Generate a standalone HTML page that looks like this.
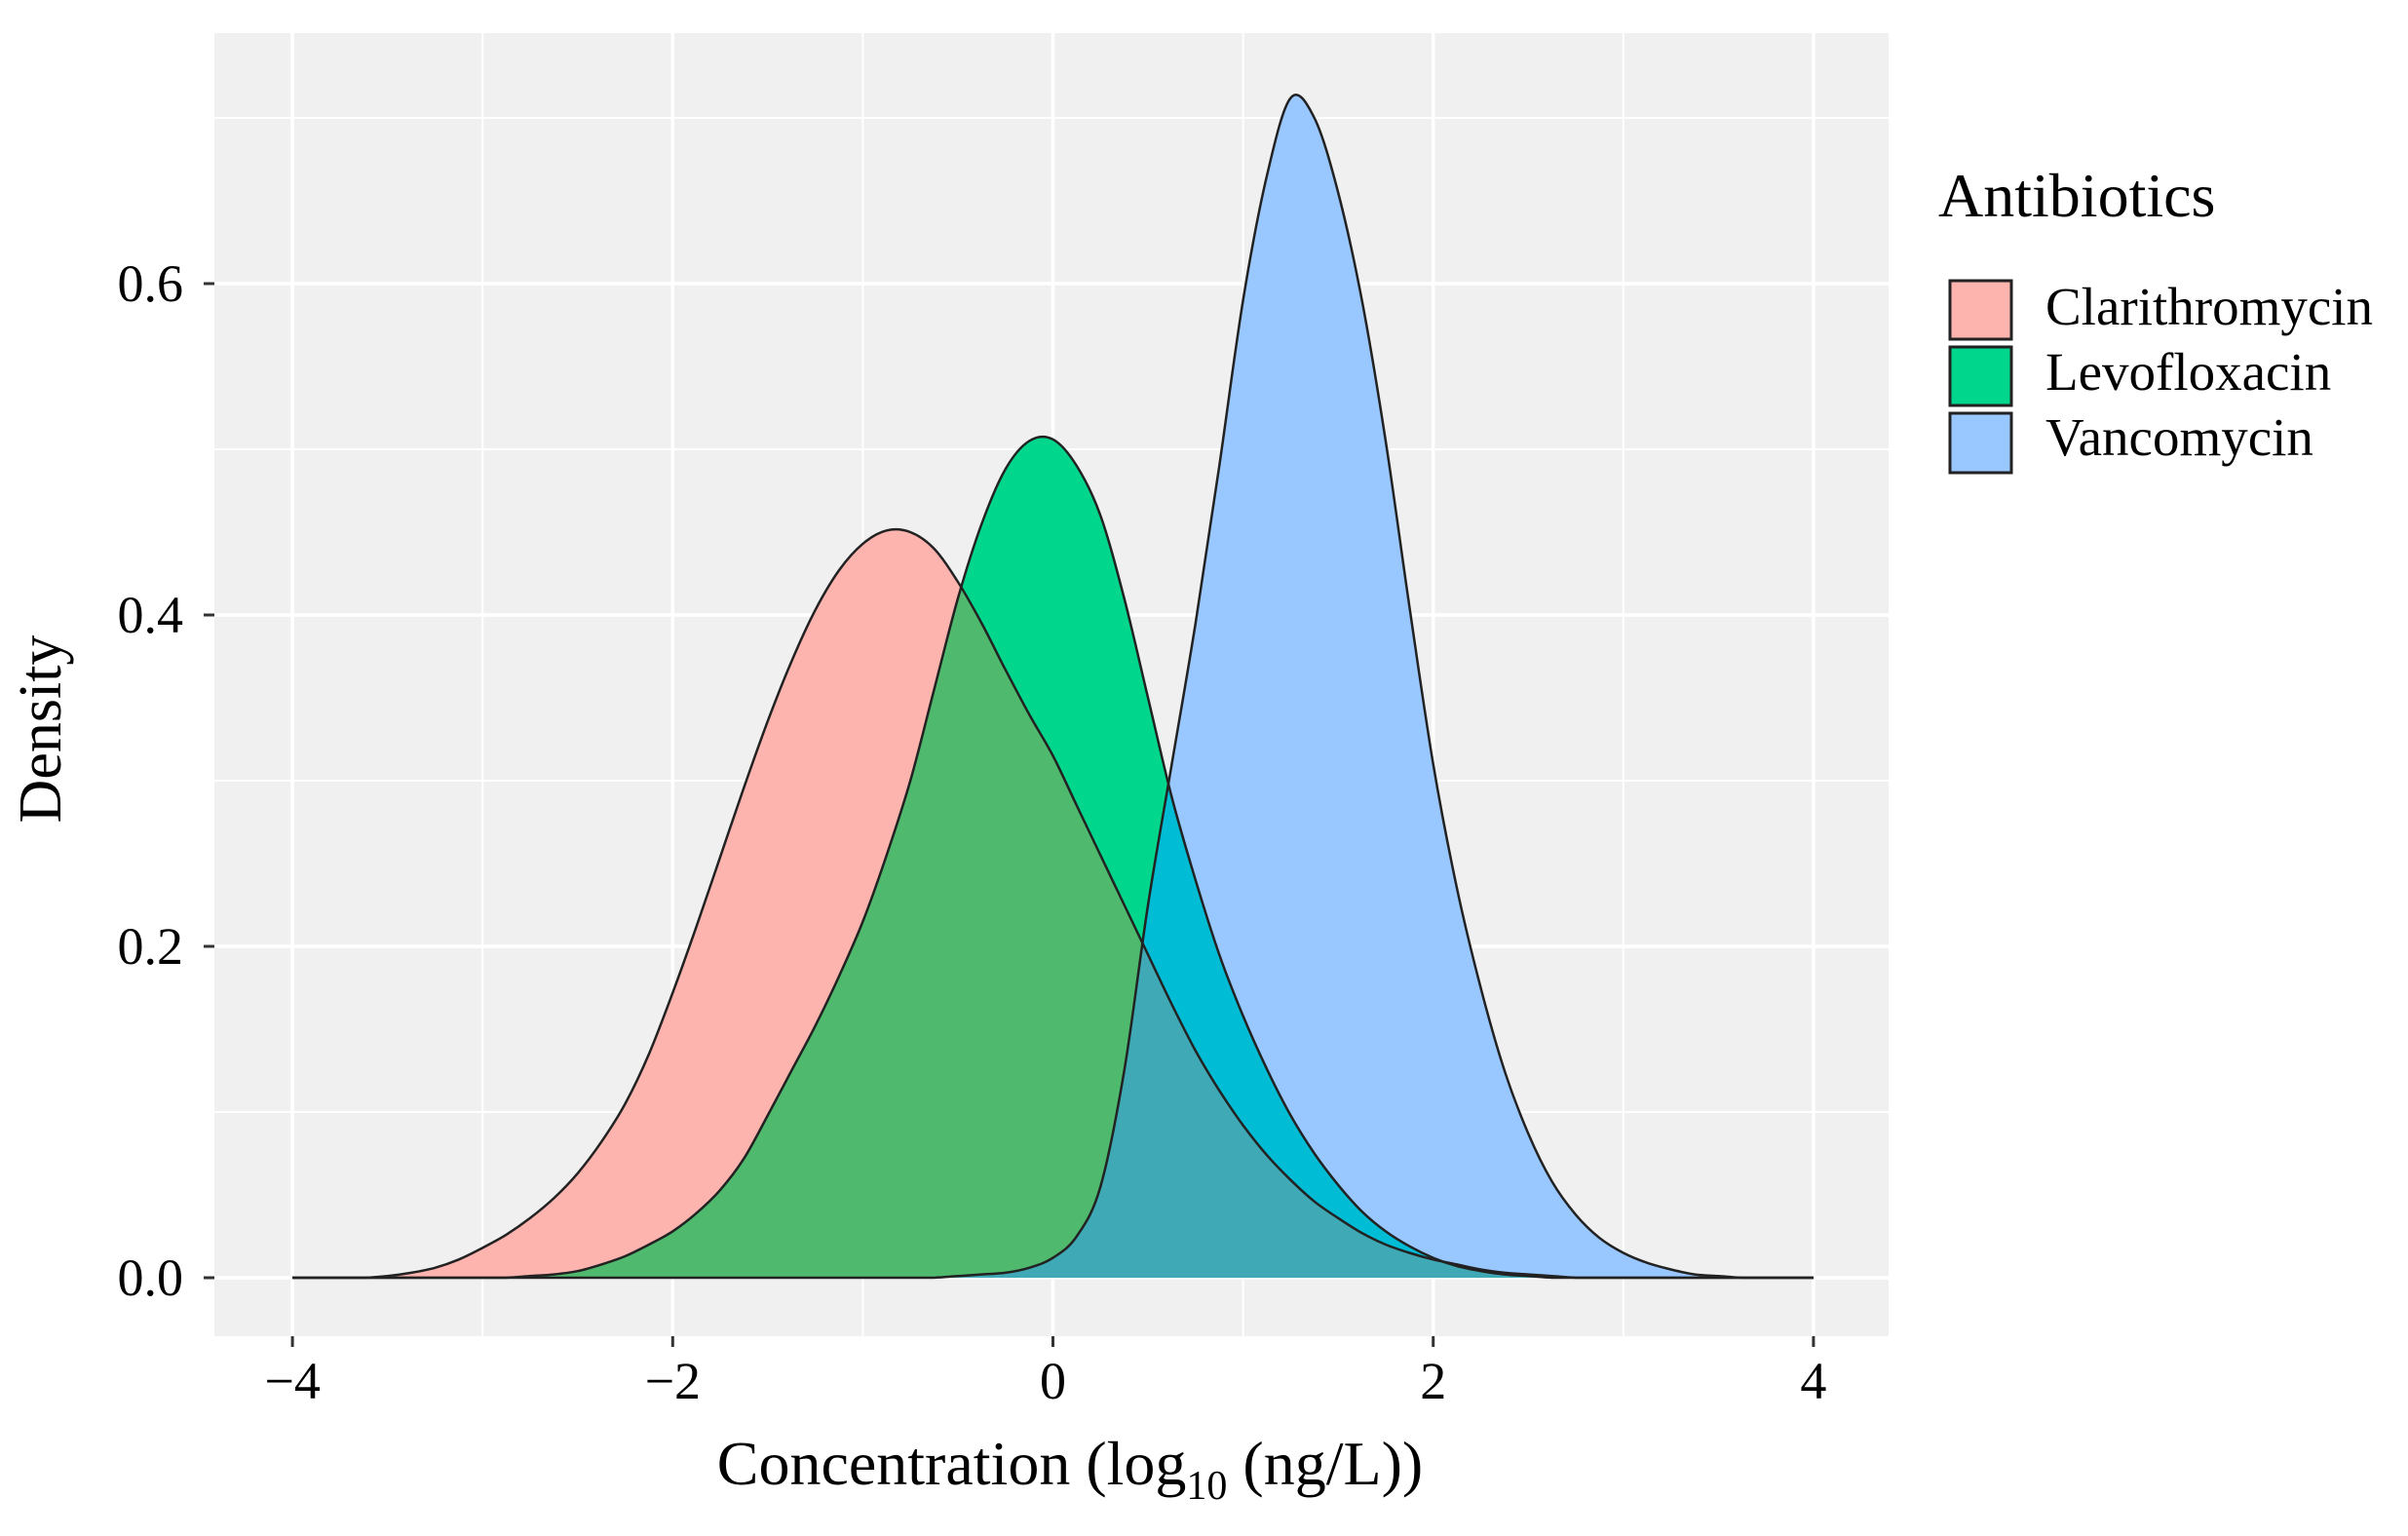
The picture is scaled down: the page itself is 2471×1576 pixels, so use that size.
<!DOCTYPE html>
<html><head><meta charset="utf-8"><style>
html,body{margin:0;padding:0;background:#fff;}
svg text{font-family:"Liberation Serif",serif;fill:#000;}
</style></head><body>
<svg id="chart" width="2471" height="1571" viewBox="0 0 2471 1571" xmlns="http://www.w3.org/2000/svg">
<rect x="220" y="34" width="1718" height="1337" fill="#F0F0F0"/>
<g id="grid"></g>
<defs id="defs"></defs>
<g id="areas"></g>
<g id="axes"></g>
<text x="1098" y="1523" font-size="64" text-anchor="middle">Concentration (log<tspan font-size="42" dy="15">10</tspan><tspan dy="-15"> (ng/L))</tspan></text>
<text transform="translate(62,748) rotate(-90)" font-size="62" text-anchor="middle">Density</text>
<g>
<text x="1989" y="222" font-size="64">Antibiotics</text>
<g>
<rect x="2001" y="288" width="63" height="60" fill="#FDB3AE" stroke="#222" stroke-width="3"/>
<text x="2099" y="333" font-size="55">Clarithromycin</text></g>
<g>
<rect x="2001" y="356" width="63" height="60" fill="#00D68C" stroke="#222" stroke-width="3"/>
<text x="2099" y="400" font-size="55">Levofloxacin</text></g>
<g>
<rect x="2001" y="424" width="63" height="61" fill="#99C7FF" stroke="#222" stroke-width="3"/>
<text x="2099" y="467" font-size="55">Vancomycin</text></g>
</g>
</svg>
<script>
const xGrid = [-4,-3.875,-3.75,-3.625,-3.5,-3.375,-3.25,-3.125,-3,-2.875,-2.75,-2.625,-2.5,-2.375,-2.25,-2.125,-2,-1.875,-1.75,-1.625,-1.5,-1.375,-1.25,-1.125,-1,-0.875,-0.75,-0.625,-0.5,-0.375,-0.25,-0.125,0,0.125,0.25,0.375,0.5,0.625,0.75,0.875,1,1.125,1.25,1.375,1.5,1.625,1.75,1.875,2,2.125,2.25,2.375,2.5,2.625,2.75,2.875,3,3.125,3.25,3.375,3.5,3.625,3.75,3.875,4];
const clarithromycin = [0,0,0,0,0.001,0.003,0.006,0.011,0.018,0.026,0.036,0.048,0.063,0.082,0.105,0.135,0.172,0.212,0.254,0.296,0.336,0.372,0.403,0.427,0.443,0.451,0.45,0.44,0.42,0.395,0.367,0.34,0.315,0.285,0.255,0.225,0.195,0.165,0.137,0.113,0.092,0.074,0.059,0.046,0.036,0.027,0.02,0.015,0.011,0.008,0.005,0.003,0.002,0.001,0,0,0,0,0,0,0,0,0,0,0];
const levofloxacin = [0,0,0,0,0,0,0,0,0,0,0.001,0.002,0.004,0.008,0.013,0.02,0.028,0.039,0.053,0.072,0.098,0.125,0.152,0.182,0.215,0.255,0.3,0.355,0.41,0.455,0.488,0.505,0.506,0.49,0.46,0.41,0.35,0.29,0.24,0.195,0.158,0.126,0.098,0.075,0.056,0.04,0.028,0.019,0.012,0.007,0.004,0.002,0.001,0,0,0,0,0,0,0,0,0,0,0,0];
const vancomycin = [0,0,0,0,0,0,0,0,0,0,0,0,0,0,0,0,0,0,0,0,0,0,0,0,0,0,0,0,0.001,0.002,0.003,0.006,0.012,0.025,0.055,0.125,0.225,0.31,0.395,0.49,0.59,0.665,0.712,0.7,0.655,0.59,0.505,0.405,0.31,0.235,0.175,0.125,0.087,0.058,0.038,0.024,0.015,0.009,0.005,0.002,0.001,0,0,0,0];
const xTicks = [-4,-2,0,2,4];
const xTickLabels = ["\u22124","\u22122","0","2","4"];
const xMinor = [-3,-1,1,3];
const yTicks = [0,0.2,0.4,0.6];
const yTickLabels = ["0.0","0.2","0.4","0.6"];
const yMinor = [0.1,0.3,0.5,0.7];

const NS="http://www.w3.org/2000/svg";
const X = v => 1080.5 + v*195.1;
const Y = v => 1311 - v*1700;
const PL=220, PR=1938, PT=34, PB=1371;
function mk(tag, parent, attrs){const e=document.createElementNS(NS,tag);for(const k in attrs)e.setAttribute(k,attrs[k]);parent.appendChild(e);return e;}
const grid=document.getElementById('grid'), axes=document.getElementById('axes'), areas=document.getElementById('areas'), defs=document.getElementById('defs');
xMinor.forEach(v=>{const l=mk('line',grid,{x1:X(v),x2:X(v),y1:PT,y2:PB,stroke:'#fff','stroke-width':2});

});
yMinor.forEach(v=>{const l=mk('line',grid,{x1:PL,x2:PR,y1:Y(v),y2:Y(v),stroke:'#fff','stroke-width':2});

});
xTicks.forEach((v,i)=>{const l=mk('line',grid,{x1:X(v),x2:X(v),y1:PT,y2:PB,stroke:'#fff','stroke-width':3.5});


const t=mk('line',axes,{x1:X(v),x2:X(v),y1:PB,y2:PB+11,stroke:'#333','stroke-width':3});


const tx=mk('text',axes,{x:X(v),y:1435,'font-size':54,'text-anchor':'middle'});tx.textContent=xTickLabels[i];

});
yTicks.forEach((v,i)=>{const l=mk('line',grid,{x1:PL,x2:PR,y1:Y(v),y2:Y(v),stroke:'#fff','stroke-width':3.5});


const t=mk('line',axes,{x1:PL-11,x2:PL,y1:Y(v),y2:Y(v),stroke:'#333','stroke-width':3});


const tx=mk('text',axes,{x:188,y:Y(v)+18,'font-size':54,'text-anchor':'end'});tx.textContent=yTickLabels[i];

});

function pathFor(vals){
  const p=xGrid.map((x,i)=>[X(x),Y(vals[i])]);
  let d=`M${p[0][0]},${p[0][1]}`;
  for(let i=0;i<p.length-1;i++){
    const p0=p[Math.max(0,i-1)],p1=p[i],p2=p[i+1],p3=p[Math.min(p.length-1,i+2)];
    let c1y=p1[1]+(p2[1]-p0[1])/6, c2y=p2[1]-(p3[1]-p1[1])/6;
    c1y=Math.min(c1y,Y(0)); c2y=Math.min(c2y,Y(0));
    d+=` C${p1[0]+(p2[0]-p0[0])/6},${c1y} ${p2[0]-(p3[0]-p1[0])/6},${c2y} ${p2[0]},${p2[1]}`;
  }
  return d;
}
const series=[['clarithromycin',clarithromycin,'#FDB3AE'],['levofloxacin',levofloxacin,'#00D68C'],['vancomycin',vancomycin,'#99C7FF']];
const D={};
series.forEach(([n,v,c])=>{D[n]=pathFor(v)+` L${X(4)},${Y(0)} L${X(-4)},${Y(0)} Z`;
const cp=mk('clipPath',defs,{id:'clip-'+n});mk('path',cp,{d:D[n]});
const a=mk('path',areas,{d:D[n],fill:c});

});
const g1=mk('g',areas,{'clip-path':'url(#clip-clarithromycin)'});
const o1=mk('path',g1,{d:D.levofloxacin,fill:'#4FBA6E'});


const g2=mk('g',areas,{'clip-path':'url(#clip-levofloxacin)'});
const o2=mk('path',g2,{d:D.vancomycin,fill:'#00BCD4'});


const g3=mk('g',areas,{'clip-path':'url(#clip-clarithromycin)'});
const g3b=mk('g',g3,{'clip-path':'url(#clip-levofloxacin)'});
const o3=mk('path',g3b,{d:D.vancomycin,fill:'#3FA9B5'});


series.forEach(([n,v])=>{const s=mk('path',areas,{d:pathFor(v),fill:'none',stroke:'#222','stroke-width':2.5});

});
</script>
</body></html>
